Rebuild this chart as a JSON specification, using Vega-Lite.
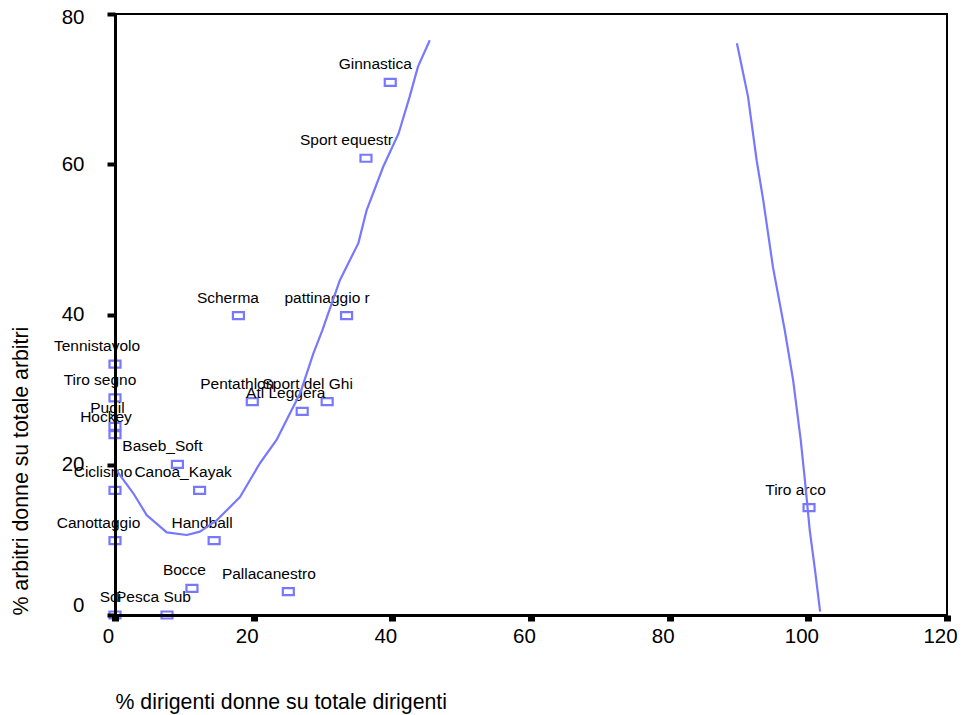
{
  "$schema": "https://vega.github.io/schema/vega-lite/v6.json",
  "width": 832,
  "height": 601,
  "autosize": "none",
  "padding": {"left": 115, "top": 14, "right": 16, "bottom": 100},
  "background": "white",
  "config": {
    "view": {"stroke": "black", "strokeWidth": 2},
    "font": "Liberation Sans"
  },
  "datasets": {
    "points": [
      {"label": "Ginnastica", "x": 39.7, "y": 70.9},
      {"label": "Sport equestr", "x": 36.2, "y": 60.8},
      {"label": "Scherma", "x": 17.8, "y": 39.85},
      {"label": "pattinaggio r", "x": 33.4, "y": 39.85},
      {"label": "Tennistavolo", "x": 0, "y": 33.4},
      {"label": "Tiro segno", "x": 0, "y": 28.9},
      {"label": "Pugil", "x": 0, "y": 25.1},
      {"label": "Hockey", "x": 0, "y": 24.0},
      {"label": "Baseb_Soft", "x": 9.0, "y": 20.05},
      {"label": "Ciclismo", "x": 0, "y": 16.6},
      {"label": "Canoa_Kayak", "x": 12.2, "y": 16.6},
      {"label": "Canottaggio", "x": 0, "y": 9.9},
      {"label": "Handball", "x": 14.3, "y": 9.9},
      {"label": "Pentathlon", "x": 19.8, "y": 28.4},
      {"label": "Sport del Ghi", "x": 30.6, "y": 28.4},
      {"label": "Atl Leggera", "x": 27.0, "y": 27.1},
      {"label": "Bocce", "x": 11.1, "y": 3.55},
      {"label": "Pallacanestro", "x": 25.0, "y": 3.1},
      {"label": "Sci", "x": 0, "y": 0},
      {"label": "Pesca Sub", "x": 7.5, "y": 0},
      {"label": "Tiro arco", "x": 100.1, "y": 14.3}
    ],
    "curve": [
      {"branch": "a", "x": 0, "y": 19.5},
      {"branch": "a", "x": 2.64, "y": 16.2},
      {"branch": "a", "x": 4.57, "y": 13.3},
      {"branch": "a", "x": 7.46, "y": 11.0},
      {"branch": "a", "x": 10.34, "y": 10.65},
      {"branch": "a", "x": 12.26, "y": 11.1},
      {"branch": "a", "x": 14.67, "y": 12.6},
      {"branch": "a", "x": 18.03, "y": 15.7},
      {"branch": "a", "x": 20.9, "y": 20.2},
      {"branch": "a", "x": 23.3, "y": 23.3},
      {"branch": "a", "x": 25.2, "y": 26.8},
      {"branch": "a", "x": 26.7, "y": 29.5},
      {"branch": "a", "x": 28.6, "y": 34.8},
      {"branch": "a", "x": 29.9, "y": 37.9},
      {"branch": "a", "x": 32.45, "y": 44.6},
      {"branch": "a", "x": 35.1, "y": 49.5},
      {"branch": "a", "x": 36.3, "y": 53.9},
      {"branch": "a", "x": 38.7, "y": 59.7},
      {"branch": "a", "x": 40.9, "y": 64.1},
      {"branch": "a", "x": 42.5, "y": 69.0},
      {"branch": "a", "x": 43.7, "y": 73.0},
      {"branch": "a", "x": 45.4, "y": 76.5},
      {"branch": "b", "x": 89.7, "y": 76.1},
      {"branch": "b", "x": 91.3, "y": 69.0},
      {"branch": "b", "x": 92.55, "y": 60.5},
      {"branch": "b", "x": 93.5, "y": 55.2},
      {"branch": "b", "x": 94.9, "y": 46.3},
      {"branch": "b", "x": 96.6, "y": 37.9},
      {"branch": "b", "x": 97.8, "y": 31.3},
      {"branch": "b", "x": 98.9, "y": 23.3},
      {"branch": "b", "x": 99.5, "y": 18.0},
      {"branch": "b", "x": 100.2, "y": 11.3},
      {"branch": "b", "x": 100.96, "y": 6.0},
      {"branch": "b", "x": 101.7, "y": 0.44}
    ]
  },
  "layer": [
    {
      "data": {"name": "points"},
      "mark": {
        "type": "point",
        "shape": "M-1,-0.636L1,-0.636L1,0.636L-1,0.636Z",
        "size": 121,
        "filled": false,
        "color": "#7878ff",
        "strokeWidth": 2.2,
        "opacity": 1
      },
      "encoding": {
        "x": {
          "field": "x",
          "type": "quantitative",
          "scale": {"domain": [0, 120], "nice": false, "zero": false},
          "axis": {
            "values": [0, 20, 40, 60, 80, 100, 120],
            "title": "% dirigenti donne su totale dirigenti",
            "titleAnchor": "start",
            "titleFontSize": 21.3,
            "titleFontWeight": "normal",
            "titleColor": "black",
            "titlePadding": 45,
            "labelFontSize": 20.5,
            "labelColor": "black",
            "labelPadding": 5,
            "labelOffset": -7,
            "labelFlush": false,
            "labelOverlap": false,
            "tickSize": 6,
            "tickWidth": 7,
            "tickColor": "black",
            "domainColor": "black",
            "domainWidth": 3,
            "grid": false,
            "zindex": 1
          }
        },
        "y": {
          "field": "y",
          "type": "quantitative",
          "scale": {"domain": [0, 80], "nice": false, "zero": false},
          "axis": {
            "values": [0, 20, 40, 60, 80],
            "title": "% arbitri donne su totale arbitri",
            "titleAnchor": "start",
            "titleFontSize": 21.3,
            "titleFontWeight": "normal",
            "titleColor": "black",
            "titlePadding": 30,
            "labelFontSize": 20.5,
            "labelColor": "black",
            "labelPadding": 23,
            "labelBaseline": {"condition": {"test": "datum.value === 0", "value": "bottom"}, "value": "middle"},
            "labelOffset": {"condition": {"test": "datum.value === 80", "value": 3}, "value": 0},
            "labelFlush": false,
            "labelOverlap": false,
            "tickSize": 8,
            "tickWidth": 4,
            "tickColor": "black",
            "domainColor": "black",
            "domainWidth": 3,
            "grid": false,
            "zindex": 1
          }
        }
      }
    },
    {
      "data": {"name": "points"},
      "mark": {
        "type": "text",
        "align": "center",
        "baseline": "alphabetic",
        "dy": -13,
        "dx": {"expr": "-1.5 * length(datum.label)"},
        "fontSize": 15.5,
        "color": "black"
      },
      "encoding": {
        "x": {"field": "x", "type": "quantitative"},
        "y": {"field": "y", "type": "quantitative"},
        "text": {"field": "label"}
      }
    },
    {
      "data": {"name": "curve"},
      "mark": {"type": "line", "color": "#7878ff", "strokeWidth": 2.2, "strokeJoin": "round", "clip": true},
      "encoding": {
        "x": {"field": "x", "type": "quantitative"},
        "y": {"field": "y", "type": "quantitative"},
        "detail": {"field": "branch"}
      }
    }
  ]
}
